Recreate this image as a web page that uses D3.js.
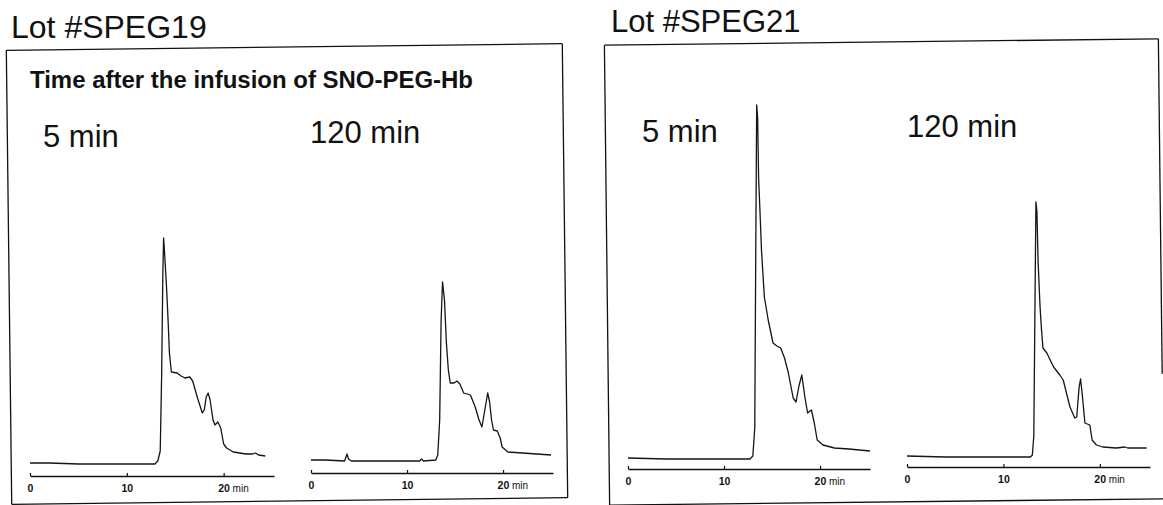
<!DOCTYPE html>
<html><head><meta charset="utf-8">
<script src="https://cdn.jsdelivr.net/npm/d3@7"></script>
<style>
body{margin:0;background:#fff}
svg{display:block}
text{font-family:"Liberation Sans", Arial, Helvetica, sans-serif; fill:#111}
</style>
</head><body>
<svg id="c" width="1163" height="505"></svg>
<script>
// ---- data ----
const lotTitles = ["Lot #SPEG19", "Lot #SPEG21"];
const subtitle = "Time after the infusion of SNO-PEG-Hb";
const timeLabels = ["5 min", "120 min", "5 min", "120 min"];
const xTicks = [0, 10, 20];
const xUnit = "min";

// SPEG19, 5 min (retention time, min / detector signal, arb. units)
const t19_5 = [0, 2, 5, 8, 10, 12.9, 13.2, 13.45, 13.6, 13.72, 13.8, 13.9, 14.1, 14.26, 14.4, 14.6, 15.2, 15.6, 16.0, 16.5, 16.8, 17.3, 17.8, 18.0, 18.2, 18.4, 18.6, 18.9, 19.1, 19.4, 19.7, 20.0, 20.3, 21.0, 22.3, 23.0, 23.3, 23.6, 24.3];
const v19_5 = [0, 0, -1, -1, -1, -1, 2, 12, 90, 190, 225, 210, 176, 143, 110, 91, 90, 87, 85, 86, 82, 65, 50, 53, 66, 70, 63, 43, 38, 41, 35, 19, 15, 11, 9, 9, 10, 8, 7];
// SPEG19, 120 min
const t19_120 = [0, 1.5, 3.5, 3.75, 3.9, 4.2, 8, 11.3, 11.5, 11.7, 13.0, 13.2, 13.4, 13.55, 13.7, 13.9, 14.1, 14.3, 14.5, 14.9, 15.2, 15.5, 15.9, 16.6, 17.1, 17.5, 17.8, 18.1, 18.4, 18.6, 18.8, 19.0, 19.4, 19.7, 19.9, 20.5, 22.0, 25.0];
const v19_120 = [0, 0, -1, 6, 1, -1, -1, -1, 1, -1, 0, 5, 40, 140, 178, 160, 117, 90, 77, 77, 79, 76, 67, 65, 53, 40, 33, 50, 67, 58, 40, 30, 29, 22, 13, 8, 7, 5];
// SPEG21, 5 min
const t21_5 = [0, 4, 8, 12.7, 13.0, 13.2, 13.3, 13.4, 13.5, 13.6, 13.75, 13.9, 14.2, 14.6, 15.1, 15.5, 15.9, 16.3, 16.7, 17.2, 17.5, 17.8, 18.1, 18.4, 18.7, 19.1, 19.4, 19.7, 20.3, 21.5, 23.0, 25.2];
const v21_5 = [0, -1, -1, -1, 2, 30, 200, 353, 340, 280, 245, 208, 161, 138, 115, 112, 110, 100, 85, 60, 56, 72, 83, 62, 45, 48, 35, 18, 13, 10, 9, 7];
// SPEG21, 120 min
const t21_120 = [0, 4, 8, 12.8, 13.0, 13.15, 13.27, 13.37, 13.47, 13.6, 13.8, 13.95, 14.1, 14.5, 15.2, 15.85, 16.2, 16.9, 17.4, 17.6, 17.85, 18.0, 18.2, 18.45, 18.96, 19.2, 19.65, 20.3, 21.7, 22.6, 22.9, 24.85];
const v21_120 = [0, -1, -1, -1, 1, 20, 150, 254, 245, 193, 149, 126, 108, 103, 89, 81, 76, 49, 38, 39, 69, 77, 59, 33, 31, 16, 11, 9, 8, 9, 8, 8];

const traces = [[t19_5, v19_5], [t19_120, v19_120], [t21_5, v21_5], [t21_120, v21_120]];

// ---- layout ----
const svg = d3.select("#c");
const xDomain = [0, 25.2];
const yDomain = [0, 360];
const panels = [
  {x0: 30,  x1: 274, base: 463, axisY: 476, lx: 43,  ly: 147},
  {x0: 311, x1: 553, base: 460, axisY: 473, lx: 310, ly: 143},
  {x0: 628, x1: 870, base: 458, axisY: 469, lx: 642, ly: 142},
  {x0: 907, x1: 1150, base: 456, axisY: 467, lx: 907, ly: 137}
];

// frames (scanned, slightly rotated)
function frame(cx, cy, hw, hh, ang, rightStop) {
  const g = svg.append("g").attr("transform", `rotate(${ang},${cx},${cy})`)
    .attr("stroke", "#111").attr("stroke-width", 1.3).attr("fill", "none");
  g.append("line").attr("x1", cx - hw).attr("x2", cx + hw).attr("y1", cy - hh).attr("y2", cy - hh);
  g.append("line").attr("x1", cx - hw).attr("x2", cx - hw).attr("y1", cy - hh).attr("y2", cy + hh);
  g.append("line").attr("x1", cx - hw).attr("x2", cx + hw).attr("y1", cy + hh).attr("y2", cy + hh);
  g.append("line").attr("x1", cx + hw).attr("x2", cx + hw).attr("y1", cy - hh).attr("y2", rightStop == null ? cy + hh : cy + rightStop);
}
frame(287, 274, 278, 227, -0.68, null);
frame(884, 272, 277, 230, -0.65, 105);

// titles
svg.append("text").attr("x", 11).attr("y", 38).attr("font-size", 32).text(lotTitles[0]);
svg.append("text").attr("x", 611).attr("y", 32).attr("font-size", 31).text(lotTitles[1]);
svg.append("text").attr("x", 30).attr("y", 88).attr("font-size", 23.5).attr("font-weight", "bold")
  .attr("textLength", 443).attr("lengthAdjust", "spacingAndGlyphs").text(subtitle);

panels.forEach((p, i) => {
  const x = d3.scaleLinear().domain(xDomain).range([p.x0, p.x1]);
  const y = d3.scaleLinear().domain(yDomain).range([p.base, p.base - (yDomain[1] - yDomain[0])]);
  const [ts, vs] = traces[i];
  const data = ts.map((t, k) => [t, vs[k]]);

  svg.append("text").attr("x", p.lx).attr("y", p.ly).attr("font-size", 31).text(timeLabels[i]);

  svg.append("path").datum(data)
    .attr("fill", "none").attr("stroke", "#151515").attr("stroke-width", 1.3)
    .attr("stroke-linejoin", "round")
    .attr("d", d3.line().x(d => x(d[0])).y(d => y(d[1])));

  const ax = svg.append("g").attr("transform", `translate(0,${p.axisY})`)
    .call(d3.axisBottom(x).tickValues(xTicks).tickSizeInner(-3).tickSizeOuter(0).tickPadding(9)
      .tickFormat(d3.format("d")));
  ax.select(".domain").attr("stroke", "#111").attr("stroke-width", 1.6);
  ax.selectAll(".tick line").attr("stroke", "#111").attr("stroke-width", 1.2);
  ax.selectAll(".tick text").attr("font-size", 10.5).attr("font-weight", "bold").attr("fill", "#111")
    .attr("font-family", "Liberation Sans, Arial, sans-serif");
  ax.selectAll(".tick text").filter(d => d === xTicks[xTicks.length - 1])
    .attr("text-anchor", "start").attr("x", -6)
    .append("tspan").attr("font-size", 10).attr("font-weight", "normal").text(" " + xUnit);
});
</script>
</body></html>
